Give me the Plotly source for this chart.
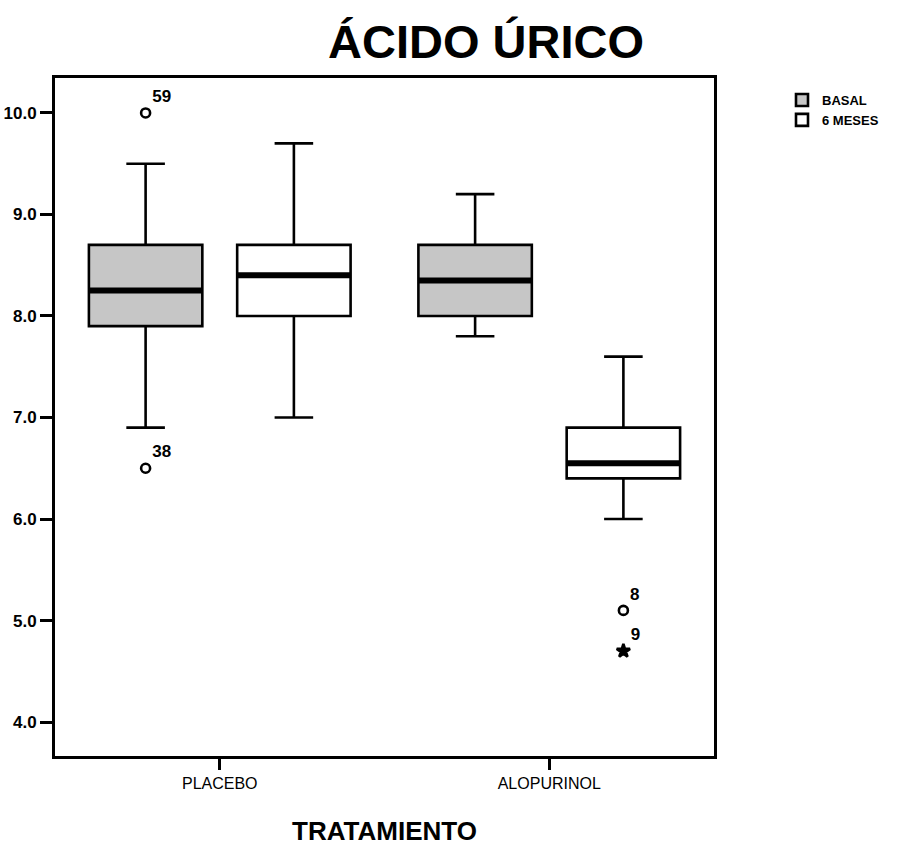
import plotly.graph_objects as go

# ---------------- data ----------------
CATEGORIES = ["PLACEBO", "ALOPURINOL"]

BASAL_LOW = [6.9, 7.8]
BASAL_Q1 = [7.9, 8.0]
BASAL_MED = [8.25, 8.35]
BASAL_Q3 = [8.7, 8.7]
BASAL_HIGH = [9.5, 9.2]

MESES_LOW = [7.0, 6.0]
MESES_Q1 = [8.0, 6.4]
MESES_MED = [8.4, 6.55]
MESES_Q3 = [8.7, 6.9]
MESES_HIGH = [9.7, 7.6]

# outliers: category index, value, case label
BASAL_OUT_CAT = [0, 0]
BASAL_OUT_VAL = [10.0, 6.5]
BASAL_OUT_LAB = ["59", "38"]

MESES_OUT_CAT = [1]
MESES_OUT_VAL = [5.1]
MESES_OUT_LAB = ["8"]

MESES_EXT_CAT = [1]
MESES_EXT_VAL = [4.7]
MESES_EXT_LAB = ["9"]

Y_TICKS = [4.0, 5.0, 6.0, 7.0, 8.0, 9.0, 10.0]
Y_TICK_TEXT = ["4.0", "5.0", "6.0", "7.0", "8.0", "9.0", "10.0"]

# ---------------- style ----------------
FONT = "Arial, Liberation Sans, sans-serif"
BOXGAP = 0.1
BOXGROUPGAP = 0.235
GROUP_OFFSET = (1 - BOXGAP) / 4  # center offset of each group slot (plotly box grouping)
BASAL_FILL = "#c6c6c6"
LINE_W = 2.6
W, H = 901, 846

x_idx = list(range(len(CATEGORIES)))

fig = go.Figure()

def add_box(name, low, q1, med, q3, high, fill, group, show):
    fig.add_trace(go.Box(
        name=name, x=x_idx, lowerfence=low, q1=q1, median=med, q3=q3, upperfence=high,
        fillcolor=fill, line=dict(color="black", width=LINE_W), whiskerwidth=0.34,
        boxpoints=False, offsetgroup=group, showlegend=show, hoverinfo="skip"))
    # thick median bar drawn as degenerate box in the same slot
    fig.add_trace(go.Box(
        name=name, x=x_idx, lowerfence=med, q1=med, median=med, q3=med, upperfence=med,
        fillcolor="black", line=dict(color="black", width=6), whiskerwidth=0,
        boxpoints=False, offsetgroup=group, showlegend=False, hoverinfo="skip"))

add_box("BASAL", BASAL_LOW, BASAL_Q1, BASAL_MED, BASAL_Q3, BASAL_HIGH, BASAL_FILL, "basal", True)
add_box("6 MESES", MESES_LOW, MESES_Q1, MESES_MED, MESES_Q3, MESES_HIGH, "white", "meses", True)

def add_points(cats, vals, labs, offset, symbol, size):
    fig.add_trace(go.Scatter(
        x=[c + offset for c in cats], y=vals, mode="markers+text",
        text=labs, textposition="top right",
        textfont=dict(family=FONT, size=17, color="black", weight="bold"),
        marker=dict(symbol=symbol, size=size, color="black",
                    line=dict(color="black", width=2.6)),
        showlegend=False, hoverinfo="skip", cliponaxis=False))

add_points(BASAL_OUT_CAT, BASAL_OUT_VAL, BASAL_OUT_LAB, -GROUP_OFFSET, "circle-open", 9)
add_points(MESES_OUT_CAT, MESES_OUT_VAL, MESES_OUT_LAB, GROUP_OFFSET, "circle-open", 9)
add_points(MESES_EXT_CAT, MESES_EXT_VAL, MESES_EXT_LAB, GROUP_OFFSET, "star", 10)

fig.update_layout(
    width=W, height=H,
    paper_bgcolor="white", plot_bgcolor="white",
    margin=dict(l=55, r=187, t=78, b=90),
    boxmode="group", boxgap=BOXGAP, boxgroupgap=BOXGROUPGAP,
    font=dict(family=FONT, color="black"),
    title=dict(text="<b>ÁCIDO ÚRICO</b>", font=dict(family=FONT, size=47, color="black"),
               x=486 / W, xanchor="center", xref="container",
               y=1 - 42 / H, yanchor="middle", yref="container"),
    legend=dict(x=782 / W, xanchor="left", xref="container",
                y=1 - 85 / H, yanchor="top", yref="container",
                font=dict(family=FONT, size=13, color="black", weight="bold"),
                itemwidth=30, tracegroupgap=0, bgcolor="rgba(0,0,0,0)"),
    xaxis=dict(range=[-0.5, 1.5], tickvals=x_idx, ticktext=CATEGORIES,
               showgrid=False, zeroline=False, automargin=False,
               showline=True, mirror=True, linecolor="black", linewidth=3,
               ticks="outside", ticklen=11, tickwidth=2.5, tickcolor="black",
               tickfont=dict(family=FONT, size=16, color="black"),
               title=dict(text="<b>TRATAMIENTO</b>", standoff=32,
                          font=dict(family=FONT, size=26, color="black"))),
    yaxis=dict(range=[3.666, 10.344], tickvals=Y_TICKS, ticktext=Y_TICK_TEXT,
               showgrid=False, zeroline=False, automargin=False,
               showline=True, mirror=True, linecolor="black", linewidth=3,
               ticks="outside", ticklen=12, tickwidth=2.5, tickcolor="black",
               tickfont=dict(family=FONT, size=17, color="black", weight="bold")),
)

# remove the default 8px body margin so the figure sits at the window's corner
fig.write_html("out.html", config={"displayModeBar": False},
               post_script="document.body.style.margin='0';")
